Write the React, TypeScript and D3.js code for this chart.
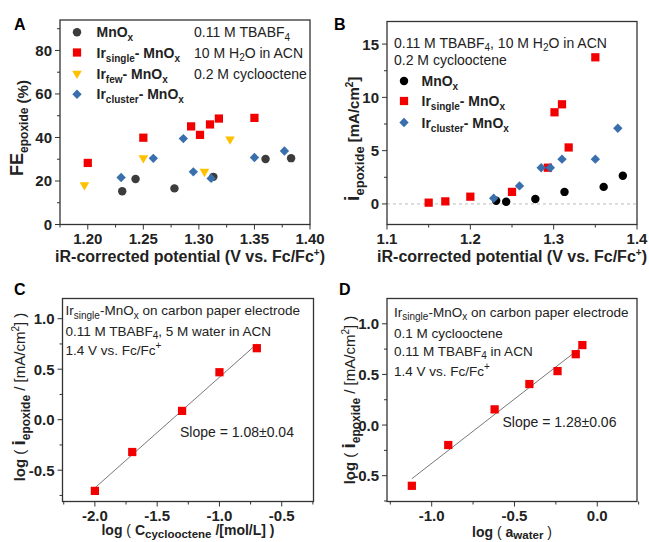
import React from 'react';
import * as d3 from 'd3';

const FONT = '"Liberation Sans", Arial, Helvetica, sans-serif';

// A: FE of epoxide vs iR-corrected potential
const feMnOx = [[1.231, 15.3], [1.243, 20.9], [1.278, 16.6], [1.313, 21.9], [1.36, 30.1], [1.383, 30.5]];
const feIrSingle = [[1.2, 28.3], [1.25, 39.9], [1.293, 45.1], [1.301, 41.2], [1.31, 46], [1.318, 48.7], [1.35, 49]];
const feIrFew = [[1.197, 18.2], [1.25, 30.6], [1.305, 24.3], [1.328, 39.2]];
const feIrCluster = [[1.23, 21.6], [1.259, 30.4], [1.286, 39.5], [1.295, 24.2], [1.311, 21.2], [1.35, 30.8], [1.377, 33.8]];

// B: epoxide partial current density
const jMnOx = [[1.231, 0.3], [1.243, 0.2], [1.278, 0.47], [1.313, 1.13], [1.36, 1.6], [1.383, 2.65]];
const jIrSingle = [[1.15, 0.12], [1.17, 0.24], [1.2, 0.68], [1.25, 1.13], [1.293, 3.4], [1.301, 8.6], [1.31, 9.35], [1.318, 5.3], [1.35, 13.76]];
const jIrCluster = [[1.228, 0.53], [1.259, 1.69], [1.285, 3.4], [1.296, 3.4], [1.31, 4.2], [1.35, 4.2], [1.377, 7.1]];

// C: order in cyclooctene
const logC = [-2.0, -1.7, -1.3, -1.0, -0.7];
const logJc = [-0.705, -0.32, 0.087, 0.47, 0.708];

// D: order in water
const logA = [-1.12, -0.9, -0.62, -0.41, -0.24, -0.13, -0.09];
const logJd = [-0.6, -0.197, 0.155, 0.405, 0.533, 0.7, 0.79];

// ticks
const aXTicks = [1.2, 1.25, 1.3, 1.35, 1.4];
const aYTicks = [0, 20, 40, 60, 80];
const bXTicks = [1.1, 1.2, 1.3, 1.4];
const bYTicks = [0, 5, 10, 15];
const cXTicks = [-2.0, -1.5, -1.0, -0.5];
const logYTicks = [-0.5, 0.0, 0.5, 1.0];
const dXTicks = [-1.0, -0.5, 0.0];

const RED = '#f20000';
const YEL = '#ffc000';
const BLUE = '#3a6fae';
const GRAY = '#3c3c3c';

const fmt = (n: number) => (d: number) => d.toFixed(n).replace('\u2212', '-');

function Mark({ shape, x, y, color }: any) {
  let d: string | null = '';
  let rot = '';
  if (shape === 'circle') d = d3.symbol(d3.symbolCircle, 56)();
  if (shape === 'square') d = d3.symbol(d3.symbolSquare, 68)();
  if (shape === 'diamond') { d = d3.symbol(d3.symbolSquare, 44)(); rot = ' rotate(45)'; }
  if (shape === 'triangle') { d = d3.symbol(d3.symbolTriangle, 40)(); rot = ' rotate(180)'; }
  return <path d={d || ''} transform={`translate(${x},${y})${rot}`} fill={color} />;
}

function Axes({ xs, ys, xTicks, yTicks, xMinor, yMinor, xf, yf }: any) {
  const [x0, x1] = xs.range();
  const [y0, y1] = ys.range();
  const st = '#333';
  return (
    <g>
      <rect x={x0} y={y1} width={x1 - x0} height={y0 - y1} fill="none" stroke={st} strokeWidth={1.3} />
      {xMinor.map((t: number) => (
        <line key={'xm' + t} x1={xs(t)} x2={xs(t)} y1={y0} y2={y0 + 3} stroke={st} />
      ))}
      {yMinor.map((t: number) => (
        <line key={'ym' + t} x1={x0} x2={x0 - 3} y1={ys(t)} y2={ys(t)} stroke={st} />
      ))}
      {xTicks.map((t: number) => (
        <g key={'x' + t}>
          <line x1={xs(t)} x2={xs(t)} y1={y0} y2={y0 + 5} stroke={st} />
          <text x={xs(t)} y={y0 + 19.5} textAnchor="middle" fontSize={15} fontWeight="bold" fill="#222">{xf(t)}</text>
        </g>
      ))}
      {yTicks.map((t: number) => (
        <g key={'y' + t}>
          <line x1={x0} x2={x0 - 5} y1={ys(t)} y2={ys(t)} stroke={st} />
          <text x={x0 - 8} y={ys(t) + 5.5} textAnchor="end" fontSize={15} fontWeight="bold" fill="#222">{yf(t)}</text>
        </g>
      ))}
    </g>
  );
}

function IrName({ x, y, kind }: any) {
  return (
    <text x={x} y={y} fontSize={14} fontWeight="bold" fill="#222">
      <tspan>Ir</tspan>
      <tspan dy={4} fontSize={10}>{kind}</tspan>
      <tspan dy={-4}>- MnO</tspan>
      <tspan dy={4} fontSize={10}>x</tspan>
    </text>
  );
}

function MnOx({ x, y }: any) {
  return (
    <text x={x} y={y} fontSize={14} fontWeight="bold" fill="#222">
      <tspan>MnO</tspan>
      <tspan dy={4} fontSize={10}>x</tspan>
    </text>
  );
}

function fitLine(xv: number[], yv: number[]) {
  const mx = d3.mean(xv) as number;
  const my = d3.mean(yv) as number;
  const sxy = d3.sum(xv, (v, i) => (v - mx) * (yv[i] - my));
  const sxx = d3.sum(xv, (v) => (v - mx) * (v - mx));
  const k = sxy / sxx;
  const lo = d3.min(xv) as number;
  const hi = d3.max(xv) as number;
  return [[lo, my + k * (lo - mx)], [hi, my + k * (hi - mx)]];
}

export default function App() {
  const ax = d3.scaleLinear().domain([1.175, 1.4]).range([60, 310]);
  const ay = d3.scaleLinear().domain([0, 94]).range([224.5, 20]);
  const bx = d3.scaleLinear().domain([1.1, 1.4]).range([387, 637]);
  const by = d3.scaleLinear().domain([-1.93, 17.12]).range([224.5, 21.5]);
  const cx = d3.scaleLinear().domain([-2.26, -0.245]).range([62.5, 313.5]);
  const cy = d3.scaleLinear().domain([-0.81, 1.2]).range([501.5, 298.5]);
  const dx = d3.scaleLinear().domain([-1.27, 0.24]).range([387, 637]);
  const dy = d3.scaleLinear().domain([-0.755, 1.25]).range([501.5, 298.5]);

  const line = (xs: any, ys: any) => d3.line<number[]>().x((p) => xs(p[0])).y((p) => ys(p[1]));
  const fitC = fitLine(logC, logJc);
  const fitD = fitLine(logA, logJd);

  const pts = (data: number[][], xs: any, ys: any, shape: string, color: string) =>
    data.map((p, i) => <Mark key={shape + color + i} shape={shape} x={xs(p[0])} y={ys(p[1])} color={color} />);

  return (
    <svg width={649} height={542} style={{ position: 'absolute', left: 0, top: 0, background: '#fff' }} fontFamily={FONT}>
      {/* panel A */}
      <text x={14} y={30} fontSize={16} fontWeight="bold">A</text>
      <Axes xs={ax} ys={ay} xTicks={aXTicks} yTicks={aYTicks}
        xMinor={d3.range(1.175, 1.4, 0.05)} yMinor={d3.range(10, 94, 20)}
        xf={fmt(2)} yf={fmt(0)} />
      {pts(feMnOx, ax, ay, 'circle', GRAY)}
      {pts(feIrSingle, ax, ay, 'square', RED)}
      {pts(feIrFew, ax, ay, 'triangle', YEL)}
      {pts(feIrCluster, ax, ay, 'diamond', BLUE)}
      <Mark shape="circle" x={77} y={32.3} color={GRAY} />
      <Mark shape="square" x={77} y={52.5} color={RED} />
      <Mark shape="triangle" x={77} y={73.5} color={YEL} />
      <Mark shape="diamond" x={77} y={94.3} color={BLUE} />
      <MnOx x={96.5} y={37} />
      <IrName x={96.5} y={57.5} kind="single" />
      <IrName x={96.5} y={78.5} kind="few" />
      <IrName x={96.5} y={99} kind="cluster" />
      <g fontSize={14} fill="#222">
        <text x={194} y={37}>0.11 M TBABF<tspan dy={3.5} fontSize={10}>4</tspan></text>
        <text x={194} y={57.5}>10 M H<tspan dy={3.5} fontSize={10}>2</tspan><tspan dy={-3.5}>O in ACN</tspan></text>
        <text x={194} y={78.5}>0.2 M cyclooctene</text>
      </g>
      <text x={190} y={262} textAnchor="middle" fontSize={16} fontWeight="bold" fill="#222">
        iR-corrected potential (V vs. Fc/Fc<tspan dy={-6} fontSize={10}>+</tspan><tspan dy={6}>)</tspan>
      </text>
      <text transform="translate(23,128) rotate(-90)" textAnchor="middle" fontWeight="bold" fill="#222" fontSize={18}>
        FE<tspan dy={5} fontSize={12}>epoxide</tspan><tspan fontSize={15}> (%)</tspan>
      </text>

      {/* panel B */}
      <text x={334} y={30} fontSize={16} fontWeight="bold">B</text>
      <line x1={387} x2={637} y1={by(0)} y2={by(0)} stroke="#bbb" strokeDasharray="3,3" strokeWidth={1} />
      <Axes xs={bx} ys={by} xTicks={bXTicks} yTicks={bYTicks}
        xMinor={[1.15, 1.25, 1.35]} yMinor={[2.5, 7.5, 12.5]}
        xf={fmt(1)} yf={fmt(0)} />
      {pts(jMnOx, bx, by, 'circle', '#000')}
      {pts(jIrSingle, bx, by, 'square', RED)}
      {pts(jIrCluster, bx, by, 'diamond', BLUE)}
      <g fontSize={14} fill="#222">
        <text x={394} y={48}>0.11 M TBABF<tspan dy={3} fontSize={10}>4</tspan><tspan dy={-3}>, 10 M H</tspan><tspan dy={3} fontSize={10}>2</tspan><tspan dy={-3}>O in ACN</tspan></text>
        <text x={394} y={65}>0.2 M cyclooctene</text>
      </g>
      <Mark shape="circle" x={404} y={81} color="#000" />
      <Mark shape="square" x={404} y={101} color={RED} />
      <Mark shape="diamond" x={404} y={122.5} color={BLUE} />
      <MnOx x={421.5} y={86} />
      <IrName x={421.5} y={106} kind="single" />
      <IrName x={421.5} y={127.5} kind="cluster" />
      <text x={512} y={262} textAnchor="middle" fontSize={16} fontWeight="bold" fill="#222">
        iR-corrected potential (V vs. Fc/Fc<tspan dy={-6} fontSize={10}>+</tspan><tspan dy={6}>)</tspan>
      </text>
      <text transform="translate(359,139) rotate(-90)" textAnchor="middle" fontWeight="bold" fill="#222" fontSize={15}>
        <tspan fontSize={21}>i</tspan><tspan dy={5} fontSize={13}>epoxide</tspan><tspan dy={-5}> [mA/cm</tspan><tspan dy={-6} fontSize={10}>2</tspan><tspan dy={6}>]</tspan>
      </text>

      {/* panel C */}
      <text x={14} y={295} fontSize={16} fontWeight="bold">C</text>
      <Axes xs={cx} ys={cy} xTicks={cXTicks} yTicks={logYTicks}
        xMinor={[-2.25, -1.75, -1.25, -0.75, -0.25]} yMinor={[-0.75, -0.25, 0.25, 0.75]}
        xf={fmt(1)} yf={fmt(1)} />
      <path d={line(cx, cy)(fitC) || ''} stroke="#777" strokeWidth={1} fill="none" />
      {pts(logC.map((v, i) => [v, logJc[i]]), cx, cy, 'square', RED)}
      <g fontSize={13.5} fill="#222">
        <text x={65.5} y={315}>Ir<tspan dy={3.5} fontSize={10}>single</tspan><tspan dy={-3.5}>-MnO</tspan><tspan dy={3.5} fontSize={10}>x</tspan><tspan dy={-3.5}> on carbon paper electrode</tspan></text>
        <text x={65.5} y={335.5}>0.11 M TBABF<tspan dy={3.5} fontSize={10}>4</tspan><tspan dy={-3.5}>, 5 M water in ACN</tspan></text>
        <text x={65.5} y={355}>1.4 V vs. Fc/Fc<tspan dy={-6} fontSize={10}>+</tspan></text>
        <text x={180} y={437} fontSize={14}>Slope = 1.08±0.04</text>
      </g>
      <text x={188} y={535} textAnchor="middle" fontSize={14} fontWeight="bold" fill="#222">
        log <tspan fontWeight="normal">(</tspan> C<tspan dy={3} fontSize={11.5}>cyclooctene</tspan><tspan dy={-3}> /[mol/L] )</tspan>
      </text>
      <text transform="translate(25,397) rotate(-90)" textAnchor="middle" fontWeight="bold" fill="#222" fontSize={15}>
        log <tspan fontWeight="normal">(</tspan> <tspan fontSize={19}>i</tspan><tspan dy={5} fontSize={12}>epoxide</tspan><tspan dy={-5} fontWeight="normal"> / [mA/cm</tspan><tspan dy={-6} fontSize={10} fontWeight="normal">2</tspan><tspan dy={6} fontWeight="normal">] )</tspan>
      </text>

      {/* panel D */}
      <text x={339} y={295} fontSize={16} fontWeight="bold">D</text>
      <Axes xs={dx} ys={dy} xTicks={dXTicks} yTicks={logYTicks}
        xMinor={[-1.25, -0.75, -0.25, 0.25]} yMinor={[-0.75, -0.25, 0.25, 0.75]}
        xf={fmt(1)} yf={fmt(1)} />
      <path d={line(dx, dy)(fitD) || ''} stroke="#777" strokeWidth={1} fill="none" />
      {pts(logA.map((v, i) => [v, logJd[i]]), dx, dy, 'square', RED)}
      <g fontSize={13.5} fill="#222">
        <text x={394} y={316.5}>Ir<tspan dy={3.5} fontSize={10}>single</tspan><tspan dy={-3.5}>-MnO</tspan><tspan dy={3.5} fontSize={10}>x</tspan><tspan dy={-3.5}> on carbon paper electrode</tspan></text>
        <text x={394} y={337.5}>0.1 M cyclooctene</text>
        <text x={394} y={356}>0.11 M TBABF<tspan dy={3} fontSize={10}>4</tspan><tspan dy={-3}> in ACN</tspan></text>
        <text x={394} y={376}>1.4 V vs. Fc/Fc<tspan dy={-6} fontSize={10}>+</tspan></text>
        <text x={502.5} y={426.5} fontSize={14}>Slope = 1.28±0.06</text>
      </g>
      <text x={512} y={536.5} textAnchor="middle" fontSize={14} fontWeight="bold" fill="#222">
        log <tspan fontWeight="normal">(</tspan> a<tspan dy={2.5} fontSize={11.5}>water</tspan><tspan dy={-2.5}> <tspan fontWeight="normal">)</tspan></tspan>
      </text>
      <text transform="translate(355,400) rotate(-90)" textAnchor="middle" fontWeight="bold" fill="#222" fontSize={15}>
        log <tspan fontWeight="normal">(</tspan> <tspan fontSize={19}>i</tspan><tspan dy={5} fontSize={12}>epoxide</tspan><tspan dy={-5} fontWeight="normal"> / [mA/cm</tspan><tspan dy={-6} fontSize={10} fontWeight="normal">2</tspan><tspan dy={6} fontWeight="normal">] )</tspan>
      </text>
    </svg>
  );
}
